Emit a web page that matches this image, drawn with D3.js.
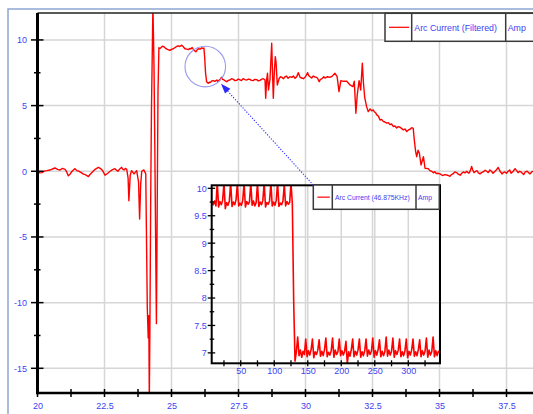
<!DOCTYPE html>
<html>
<head>
<meta charset="utf-8">
<script src="https://cdn.jsdelivr.net/npm/d3@7"></script>
<style>
  html, body { margin: 0; padding: 0; background: #fff; }
  svg { display: block; }
  text { font-family: "Liberation Sans", Arial, sans-serif; }
</style>
</head>
<body>
<svg id="chart" width="533" height="414"></svg>
<script>
// ---- Filtered arc current (time in ms, current in A) ----
const arcTime = [
  // pre-arc baseline
  20.00, 20.08, 20.17, 20.26, 20.35, 20.50, 20.65, 20.75, 20.84, 20.93, 21.03, 21.09, 21.15, 21.22, 21.29, 21.35,
  21.40, 21.47, 21.55, 21.62, 21.70, 21.80, 21.90, 21.96, 22.03, 22.15, 22.27, 22.34, 22.41, 22.47, 22.52, 22.62,
  22.71, 22.80, 22.89, 22.95, 23.00, 23.07, 23.14, 23.19, 23.23, 23.28, 23.33, 23.38,
  23.41, 23.46, 23.51, 23.60, 23.70, 23.77, 23.81, 23.85, 23.89, 23.97, 24.04,
  // ignition transient
  24.075, 24.097, 24.131, 24.153, 24.172, 24.194, 24.224, 24.254, 24.272, 24.306, 24.325, 24.347, 24.377, 24.407,
  24.437, 24.466, 24.496, 24.530,
  // high plateau
  24.57, 24.61, 24.66, 24.71, 24.77, 24.83, 24.89, 24.94, 25.00, 25.07, 25.13, 25.19, 25.25, 25.31, 25.38, 25.44,
  25.50, 25.57, 25.63, 25.68, 25.73, 25.77, 25.81, 25.86, 25.91, 25.96, 26.00, 26.07, 26.13, 26.17, 26.21,
  // step down and mid plateau
  26.24, 26.27, 26.31, 26.37, 26.41, 26.44, 26.50, 26.56, 26.62, 26.69, 26.72, 26.75, 26.81, 26.87, 26.91, 26.96,
  27.01, 27.06, 27.12, 27.18, 27.24, 27.31, 27.37, 27.43, 27.49, 27.56, 27.61, 27.67, 27.74, 27.81, 27.87, 27.93,
  27.98, 28.04, 28.11, 28.18, 28.24, 28.30, 28.37, 28.43, 28.49,
  28.515, 28.552, 28.582, 28.619, 28.675, 28.739, 28.769, 28.799, 28.836, 28.873, 28.899, 28.948,
  29.02, 29.07, 29.12, 29.18, 29.24, 29.29, 29.35, 29.42, 29.49, 29.55, 29.61, 29.67, 29.73, 29.80, 29.86, 29.92,
  30.00, 30.08, 30.12, 30.17, 30.23, 30.29, 30.35, 30.42, 30.46, 30.51, 30.56, 30.62, 30.68, 30.73, 30.82, 30.91,
  31.00, 31.10, 31.18, 31.25,
  31.32, 31.41, 31.54, 31.66, 31.77, 31.82, 31.88, 31.93, 32.00, 32.06, 32.12, 32.16, 32.21, 32.28,
  // decay
  32.34, 32.38, 32.41, 32.47, 32.53, 32.56, 32.59, 32.62, 32.66, 32.72, 32.78, 32.84, 32.90, 32.96, 33.03, 33.09,
  33.15, 33.21, 33.28, 33.34, 33.40, 33.46, 33.53, 33.59, 33.65, 33.71, 33.78, 33.84, 33.90, 33.96, 34.02,
  34.06, 34.11, 34.15, 34.20, 34.25, 34.31, 34.40, 34.46,
  // post-arc baseline
  34.58, 34.64, 34.71, 34.77, 34.83, 34.88, 34.94, 35.02, 35.11, 35.21, 35.30, 35.39, 35.45, 35.50, 35.57, 35.64,
  35.70, 35.77, 35.83, 35.89, 35.95, 36.02, 36.06, 36.10, 36.15, 36.20, 36.24, 36.29, 36.35, 36.40, 36.45, 36.51,
  36.57, 36.63, 36.70, 36.76, 36.82, 36.88, 36.94, 37.00, 37.10, 37.19, 37.26, 37.33, 37.38, 37.44, 37.50, 37.56,
  37.62, 37.67, 37.75, 37.82, 37.88, 37.93, 37.99, 38.04, 38.09, 38.14, 38.20, 38.27, 38.33, 38.38, 38.44, 38.49,
  38.56
];
const arcAmp = [
  0.00, -0.12, -0.10, 0.02, 0.05, 0.12, 0.25, 0.15, 0.10, 0.22, 0.15, -0.05, -0.35, -0.20, 0.00, 0.12,
  0.20, 0.05, 0.00, -0.08, -0.20, -0.28, -0.40, -0.25, -0.10, 0.15, 0.30, 0.22, 0.10, -0.10, -0.30, -0.15,
  0.00, 0.12, 0.20, 0.08, 0.00, 0.18, 0.30, 0.15, 0.10, 0.22, 0.15, -0.50,
  -2.24, -0.30, 0.05, -0.20, 0.05, -0.80, -3.63, -1.00, 0.00, 0.10, -0.20,
  -6.5, -10.4, -12.7, -11.0, -17.5, -12.0, -2.0, 5.0, 7.5, 12.6, 10.6, 8.0, 2.0, -5.0,
  -11.6, -3.0, 6.0, 9.40,
  9.35, 9.42, 9.52, 9.49, 9.38, 9.30, 9.25, 9.20, 9.28, 9.33, 9.42, 9.50, 9.55, 9.50, 9.60, 9.48,
  9.33, 9.30, 9.26, 9.35, 9.33, 9.42, 9.30, 9.18, 9.10, 9.25, 9.33, 9.30, 9.40, 9.35, 9.38,
  8.60, 7.50, 6.82, 6.70, 6.78, 6.75, 6.88, 6.90, 6.85, 6.95, 6.85, 6.88, 6.98, 7.16, 7.00, 6.95,
  6.88, 6.82, 6.92, 6.95, 7.05, 7.00, 6.90, 6.92, 7.02, 6.96, 6.90, 7.05, 6.98, 6.95, 7.02, 7.00,
  6.92, 6.90, 7.00, 6.98, 6.88, 6.92, 7.02, 7.05, 6.95,
  5.56, 7.00, 7.46, 6.19, 7.00, 9.75, 7.50, 5.56, 7.50, 8.73, 8.35, 6.57,
  7.08, 7.20, 7.15, 7.05, 7.20, 7.25, 7.08, 7.20, 7.15, 7.25, 7.08, 7.20, 7.51, 7.15, 7.10, 7.05,
  7.20, 7.51, 7.30, 7.20, 7.10, 7.25, 7.18, 7.15, 7.05, 6.82, 7.00, 7.05, 7.20, 7.10, 7.20, 7.15,
  7.25, 7.46, 7.20, 6.06,
  6.90, 6.85, 6.85, 6.57, 6.45, 6.85, 4.42, 5.81, 6.90, 6.19, 8.22, 6.80, 5.60, 4.92,
  4.54, 4.65, 4.75, 4.60, 4.67, 4.55, 4.50, 4.45, 4.29, 4.20, 3.90, 3.95, 3.80, 3.75, 3.66, 3.70,
  3.55, 3.60, 3.40, 3.45, 3.30, 3.40, 3.35, 3.25, 3.15, 3.22, 3.02, 3.15, 3.20, 3.32, 3.27,
  2.38, 1.50, 1.11, 1.60, 1.37, 0.48, 1.11, 0.23,
  0.20, 0.05, 0.00, -0.12, -0.03, -0.18, -0.15, -0.20, -0.32, -0.25, -0.30, -0.38, -0.25, -0.20, -0.05, -0.10,
  -0.22, -0.30, -0.15, -0.05, -0.12, 0.00, -0.10, -0.15, 0.05, 0.37, 0.10, -0.10, 0.00, 0.05, -0.12, -0.20,
  -0.10, -0.05, 0.08, 0.00, -0.10, 0.10, 0.00, -0.15, 0.05, 0.29, 0.00, -0.20, -0.10, -0.05, -0.15, 0.00,
  0.10, -0.15, 0.00, 0.20, 0.05, -0.10, 0.00, -0.05, -0.15, -0.25, -0.05, 0.00, -0.12, -0.20, -0.05, 0.00,
  -0.05
];
const mainXTicks  = [20, 22.5, 25, 27.5, 30, 32.5, 35, 37.5];
const mainXLabels = ["20", "22.5", "25", "27.5", "30", "32.5", "35", "37.5"];
const mainYTicks  = [-15, -10, -5, 0, 5, 10];
const mainYLabels = ["-15", "-10", "-5", "0", "5", "10"];

// ---- Raw arc current at 46.875 kHz (sample index, current in A) ----
const insetStart = 7;
const insetStep = 2;
const insetAmp = [
  9.74, 9.70, 9.77, 9.68, 10.10, 9.66, 9.76, 9.70, 9.78, 10.10,
  9.63, 9.74, 9.69, 9.77, 10.10, 9.67, 9.75, 9.70, 9.79, 10.08,
  9.68, 9.73, 9.69, 9.78, 10.10, 9.66, 9.76, 9.71, 9.75, 10.10,
  9.69, 9.77, 9.68, 9.74, 10.09, 9.67, 9.75, 9.70, 9.78, 10.10,
  9.66, 9.74, 9.71, 9.77, 10.10, 9.68, 9.75, 9.69, 9.78, 10.10,
  9.67, 9.73, 9.70, 9.77, 10.07, 9.68, 9.76, 9.71, 9.74, 10.10,
  9.72, 7.95, 6.85,
  7.02, 7.29, 6.95, 7.05, 6.92, 7.03, 6.97, 7.25, 6.93, 7.04,
  6.96, 7.06, 7.25, 6.91, 7.02, 6.97, 7.05, 7.24, 6.94, 7.03,
  6.95, 7.06, 7.27, 6.93, 7.01, 6.96, 7.04, 7.27, 6.92, 7.05,
  6.97, 7.02, 7.25, 6.95, 7.04, 6.96, 7.03, 7.21, 6.81, 7.02,
  6.94, 7.06, 7.25, 6.93, 7.03, 6.96, 7.05, 7.25, 6.92, 7.02,
  6.95, 7.04, 7.25, 6.94, 7.05, 6.97, 7.03, 7.27, 6.92, 7.04,
  6.96, 7.06, 7.24, 6.93, 7.03, 6.95, 7.02, 7.29, 6.94, 7.05,
  6.96, 7.03, 7.27, 6.92, 7.04, 6.97, 7.05, 7.25, 6.93, 7.02,
  6.95, 7.04, 7.25, 6.91, 7.03, 6.96, 7.05, 7.25, 6.94, 7.02,
  6.95, 7.06, 7.24, 6.93, 7.04, 6.96, 7.03, 7.27, 6.92, 7.05,
  6.96, 7.02, 7.29, 6.93, 7.04, 6.95, 7.03, 7.00
];
const insetXTicks  = [50, 100, 150, 200, 250, 300];
const insetXLabels = ["50", "100", "150", "200", "250", "300"];
const insetYTicks  = [7, 7.5, 8, 8.5, 9, 9.5, 10];
const insetYLabels = ["7", "7.5", "8", "8.5", "9", "9.5", "10"];

const mainSeriesName  = "Arc Current (Filtered)";
const insetSeriesName = "Arc Current (46.875KHz)";
const unitName = "Amp";

// Transition highlighted on the filtered trace (time ms, current A)
const highlight = { t: 26.26, amp: 7.97 };

// ---------------------------------------------------------------
const svg = d3.select("#chart");
const W = 533, H = 414;
const LABEL = "#4141f2";
const GRID = "#d6d6d6";
const TRACE = "#ff0000";

svg.append("rect").attr("width", W).attr("height", H).attr("fill", "#fff");

// window frame
svg.append("path")
  .attr("d", `M8,${H} V9 H${W}`)
  .attr("fill", "none").attr("stroke", "#8ea6d2").attr("stroke-width", 1.5);

// ---- main plot ----
const M = { left: 37.5, right: 533.3, top: 13, bottom: 393 };
const x = d3.scaleLinear().domain([20, 38.5]).range([M.left, M.right]);
const y = d3.scaleLinear().domain([-16.88, 12.05]).range([M.bottom, M.top]);

const grid = svg.append("g").attr("stroke", GRID).attr("stroke-width", 1.5);
grid.selectAll(".gx").data(mainXTicks.filter(d => d > 20)).join("line")
  .attr("x1", d => x(d)).attr("x2", d => x(d))
  .attr("y1", M.top).attr("y2", M.bottom);
grid.selectAll(".gy").data(mainYTicks).join("line")
  .attr("x1", M.left).attr("x2", W)
  .attr("y1", d => y(d)).attr("y2", d => y(d));

svg.append("clipPath").attr("id", "mainClip").append("rect")
  .attr("x", M.left).attr("y", M.top)
  .attr("width", W - M.left).attr("height", M.bottom - M.top);

const mainLine = d3.line().x(d => x(d[0])).y(d => y(d[1]));
svg.append("path")
  .datum(d3.zip(arcTime, arcAmp))
  .attr("clip-path", "url(#mainClip)")
  .attr("d", mainLine)
  .attr("fill", "none").attr("stroke", TRACE)
  .attr("stroke-width", 1.4).attr("stroke-linejoin", "round");

// frame lines
svg.append("line").attr("x1", M.left).attr("x2", W).attr("y1", M.top).attr("y2", M.top)
  .attr("stroke", "#222").attr("stroke-width", 1.5);
svg.append("line").attr("x1", M.left).attr("x2", W).attr("y1", M.bottom).attr("y2", M.bottom)
  .attr("stroke", "#000").attr("stroke-width", 2.5);
svg.append("line").attr("x1", M.left).attr("x2", M.left).attr("y1", M.top).attr("y2", M.bottom + 1.2)
  .attr("stroke", "#000").attr("stroke-width", 3);

// tick marks
const mainXMinor = d3.range(21.25, 38.5, 2.5);
const tk = svg.append("g").attr("stroke", "#000").attr("stroke-width", 1.5);
tk.selectAll(".tx").data(mainXTicks.concat(mainXMinor)).join("line")
  .attr("x1", d => x(d)).attr("x2", d => x(d))
  .attr("y1", M.bottom - 4).attr("y2", M.bottom + 4);
tk.selectAll(".ty").data(mainYTicks).join("line")
  .attr("x1", M.left - 6.5).attr("x2", M.left + 6)
  .attr("y1", d => y(d)).attr("y2", d => y(d));
tk.selectAll(".tym").data(d3.range(-12.5, 12, 5)).join("line")
  .attr("x1", M.left - 3.5).attr("x2", M.left + 3)
  .attr("y1", d => y(d)).attr("y2", d => y(d));

function styleAxis(g, size) {
  g.select(".domain").remove();
  g.selectAll("line").remove();
  g.selectAll("text").attr("fill", LABEL).attr("font-size", size)
    .attr("font-family", "'Liberation Sans', Arial, sans-serif");
}

svg.append("g").attr("transform", `translate(0,${M.bottom})`)
  .call(d3.axisBottom(x).tickValues(mainXTicks)
    .tickFormat((d, i) => mainXLabels[i]).tickSize(0).tickPadding(10))
  .call(g => styleAxis(g, 9));
svg.append("g").attr("transform", `translate(${M.left},0)`)
  .call(d3.axisLeft(y).tickValues(mainYTicks)
    .tickFormat((d, i) => mainYLabels[i]).tickSize(0).tickPadding(10.5))
  .call(g => styleAxis(g, 9));

// ---- inset plot ----
const I = { left: 211.7, right: 440, top: 185.3, bottom: 363.3 };
const insetX = d3.scaleLinear().domain([6.7, 347.3]).range([I.left, I.right]);
const insetY = d3.scaleLinear().domain([6.81, 10.055]).range([I.bottom, I.top]);

svg.append("g").attr("stroke", GRID).attr("stroke-width", 1.5)
  .selectAll("line").data(insetXTicks).join("line")
  .attr("x1", d => insetX(d)).attr("x2", d => insetX(d))
  .attr("y1", I.top).attr("y2", I.bottom);

svg.append("clipPath").attr("id", "insetClip").append("rect")
  .attr("x", I.left).attr("y", I.top)
  .attr("width", I.right - I.left).attr("height", I.bottom - I.top);

const insetLine = d3.line()
  .x((d, i) => insetX(insetStart + i * insetStep))
  .y(d => insetY(d));
svg.append("path")
  .datum(insetAmp)
  .attr("clip-path", "url(#insetClip)")
  .attr("d", insetLine)
  .attr("fill", "none").attr("stroke", TRACE)
  .attr("stroke-width", 1.6).attr("stroke-linejoin", "round");

svg.append("rect")
  .attr("x", I.left).attr("y", I.top)
  .attr("width", I.right - I.left).attr("height", I.bottom - I.top)
  .attr("fill", "none").attr("stroke", "#000").attr("stroke-width", 2);

const insetXMinor = d3.range(25, 347, 50);
const itk = svg.append("g").attr("stroke", "#000").attr("stroke-width", 1.3);
itk.selectAll(".ix").data(insetXTicks.concat(insetXMinor)).join("line")
  .attr("x1", d => insetX(d)).attr("x2", d => insetX(d))
  .attr("y1", I.bottom - 3).attr("y2", I.bottom + 3);
itk.selectAll(".iy").data(insetYTicks).join("line")
  .attr("x1", I.left - 4).attr("x2", I.left + 3.5)
  .attr("y1", d => insetY(d)).attr("y2", d => insetY(d));
itk.selectAll(".iym").data(d3.range(7.25, 10, 0.5)).join("line")
  .attr("x1", I.left - 2).attr("x2", I.left + 2.5)
  .attr("y1", d => insetY(d)).attr("y2", d => insetY(d));

svg.append("g").attr("transform", `translate(0,${I.bottom})`)
  .call(d3.axisBottom(insetX).tickValues(insetXTicks)
    .tickFormat((d, i) => insetXLabels[i]).tickSize(0).tickPadding(4.8))
  .call(g => styleAxis(g, 9));
svg.append("g").attr("transform", `translate(${I.left},0)`)
  .call(d3.axisLeft(insetY).tickValues(insetYTicks)
    .tickFormat((d, i) => insetYLabels[i]).tickSize(0).tickPadding(5))
  .call(g => styleAxis(g, 9));

// ---- legends ----
function legend(box, div1, div2, name, size, baseline) {
  const g = svg.append("g");
  g.append("rect").attr("x", box.x).attr("y", box.y).attr("width", box.w).attr("height", box.h)
    .attr("fill", "#fff").attr("stroke", "#3a3a3a").attr("stroke-width", 1.5);
  [div1, div2].forEach(dx => g.append("line")
    .attr("x1", dx).attr("x2", dx).attr("y1", box.y).attr("y2", box.y + box.h)
    .attr("stroke", "#3a3a3a").attr("stroke-width", 1.5));
  g.append("line").attr("x1", box.x + 4).attr("x2", div1 - 2.5)
    .attr("y1", box.y + box.h / 2).attr("y2", box.y + box.h / 2)
    .attr("stroke", TRACE).attr("stroke-width", 1.2);
  g.append("text").attr("x", div1 + 2.6).attr("y", baseline)
    .attr("fill", LABEL).attr("font-size", size).text(name);
  g.append("text").attr("x", div2 + 2).attr("y", baseline)
    .attr("fill", LABEL).attr("font-size", size).text(unitName);
  return g;
}
legend({ x: 385, y: 13.3, w: 200, h: 28 }, 411.7, 505.7, mainSeriesName, 8.8, 30.6);
const insetLegendBox = { x: 313.3, y: 185, w: 126, h: 24.3 };
legend(insetLegendBox, 332.3, 416, insetSeriesName, 6.8, 199.8);

// ---- highlight circle and pointer ----
const cx = x(highlight.t), cy = y(highlight.amp), r = 20.3;
svg.append("circle").attr("cx", cx).attr("cy", cy).attr("r", r)
  .attr("fill", "none").attr("stroke", "#9a9af0").attr("stroke-width", 1.1);

const sx = insetLegendBox.x, sy = insetLegendBox.y;
const len = Math.hypot(sx - cx, sy - cy);
const ux = (sx - cx) / len, uy = (sy - cy) / len;
const tipX = cx + ux * (r + 3), tipY = cy + uy * (r + 3);
const headLen = 10, headHalf = 3.6;
const bx = tipX + ux * headLen, by = tipY + uy * headLen;
svg.append("line").attr("x1", sx).attr("y1", sy).attr("x2", bx).attr("y2", by)
  .attr("stroke", "#2a2aff").attr("stroke-width", 1.1).attr("stroke-dasharray", "1.2,1.6");
svg.append("path")
  .attr("d", `M${tipX},${tipY} L${bx - uy * headHalf},${by + ux * headHalf} L${bx + uy * headHalf},${by - ux * headHalf} Z`)
  .attr("fill", "#2a2aff");
</script>
</body>
</html>
